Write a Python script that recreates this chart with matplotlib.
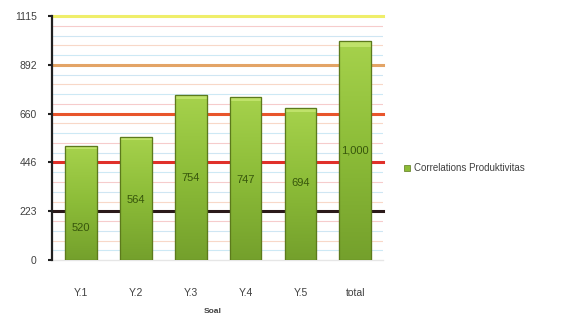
import numpy as np
import matplotlib.pyplot as plt
from matplotlib.colors import LinearSegmentedColormap

categories = ['Y.1', 'Y.2', 'Y.3', 'Y.4', 'Y.5', 'total']
values = [520, 564, 754, 747, 694, 1000]
value_labels = ['520', '564', '754', '747', '694', '1,000']
label_frac = [0.28, 0.49, 0.5, 0.49, 0.51, 0.5]  # where the value label sits inside each bar

major_ticks = [0, 223, 446, 669, 892, 1115]
major_tick_labels = ['0', '223', '446', '660', '892', '1115']
major_colors = ['#e6e6e6', '#2b1a1a', '#e0302a', '#e8552c', '#e3a466', '#efee6a']
minor_colors = ['#f6cccc', '#cde9f5', '#f8d8c8', '#cfe6f3']

series_name = 'Correlations Produktivitas'
xlabel = 'Soal'

plt.rcParams['font.family'] = ['Liberation Sans', 'DejaVu Sans']

fig = plt.figure(figsize=(5.66, 3.16), dpi=100)
ax = fig.add_axes([0.092, 0.177, 0.585, 0.772])

# minor gridlines (4 between each pair of majors)
step = major_ticks[1] - major_ticks[0]
for i in range(len(major_ticks) - 1):
    for k in range(1, 5):
        y = major_ticks[i] + step * k / 5
        ax.axhline(y, color=minor_colors[(i + k) % len(minor_colors)], lw=0.8, zorder=1)

# major gridlines
for y, c in zip(major_ticks, major_colors):
    lw = 1.0 if y == 0 else 2.2
    ax.axhline(y, color=c, lw=lw, zorder=1.5, clip_on=False)

x = np.arange(len(categories))
w = 0.58
bars = ax.bar(x, values, width=w, color='#8dbb36', edgecolor='#5c7a1c',
              linewidth=0.8, zorder=3)

# vertical gradient in each bar, light at the top
cmap = LinearSegmentedColormap.from_list('g', ['#74a02c', '#8cbc38', '#a6d24c'])
grad = np.linspace(0, 1, 256).reshape(-1, 1)
for b in bars:
    x0, y0 = b.get_x(), b.get_y()
    im = ax.imshow(grad, cmap=cmap, origin='lower', aspect='auto',
                   extent=(x0, x0 + b.get_width(), y0, y0 + b.get_height()), zorder=3.5)
    im.set_clip_path(b)

# lighter cap on top of each bar
ax.bar(x, [v * 0.025 for v in values], bottom=[v * 0.975 for v in values],
       width=w, color='#bfe26a', edgecolor='none', zorder=4)
ax.bar(x, values, width=w, color='none', edgecolor='#5c7a1c', linewidth=0.9, zorder=4.5)

for xi, v, lab, f in zip(x, values, value_labels, label_frac):
    ax.text(xi, v * f, lab, ha='center', va='center', fontsize=8,
            color='#37560c', zorder=5)

ax.set_xlim(-0.53, len(categories) - 0.49)
ax.set_ylim(0, 1115)
ax.set_yticks(major_ticks)
ax.set_yticklabels(major_tick_labels)
ax.set_xticks(x)
ax.set_xticklabels(categories)
ax.tick_params(axis='y', length=3, width=1.5, color='#202020', labelsize=7.5,
               labelcolor='#404040', pad=8)
ax.tick_params(axis='x', length=0, labelsize=7.5, labelcolor='#404040', pad=20)

for s in ['top', 'right', 'bottom']:
    ax.spines[s].set_visible(False)
ax.spines['left'].set_linewidth(1.6)
ax.spines['left'].set_color('#202020')

fig.text(0.376, 0.004, xlabel, fontsize=6, fontweight='bold', color='#404040',
         ha='center', va='bottom')

# legend
fig.patches.append(plt.Rectangle((0.713, 0.459), 0.011, 0.02, transform=fig.transFigure,
                                 facecolor='#8dbb36', edgecolor='#5c7a1c', lw=0.5))
fig.text(0.731, 0.469, series_name, fontsize=7, color='#404040', va='center')

fig.savefig('out.png', dpi=100, facecolor='white')
